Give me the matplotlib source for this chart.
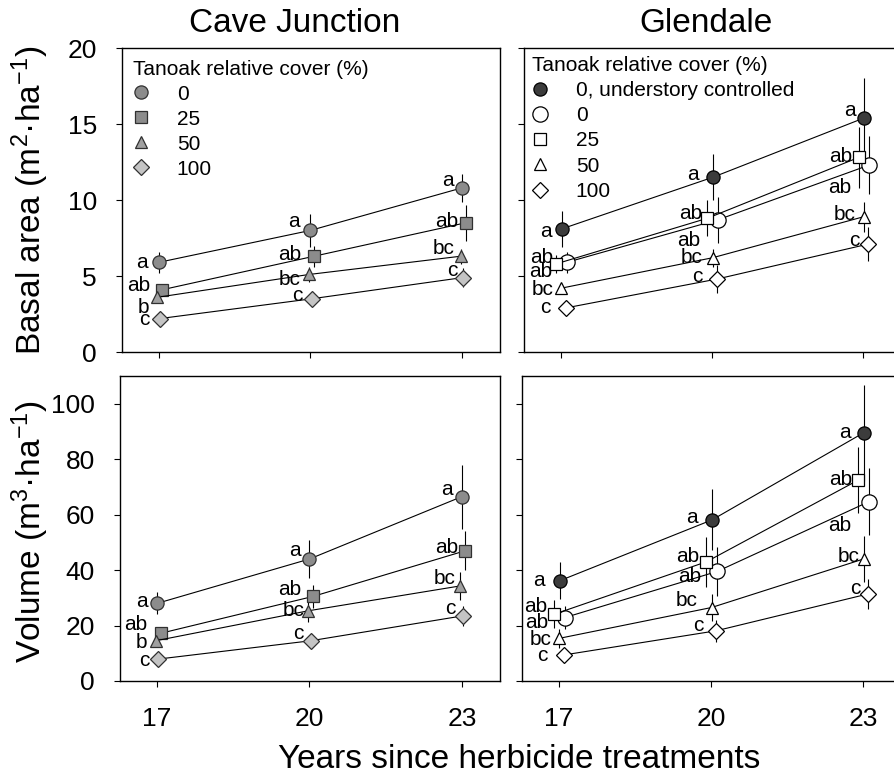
import matplotlib
matplotlib.use('Agg')
import matplotlib.pyplot as plt
from matplotlib.lines import Line2D

plt.rcParams['font.family'] = ['Liberation Sans', 'DejaVu Sans']
plt.rcParams['mathtext.fontset'] = 'custom'
plt.rcParams['mathtext.rm'] = 'Liberation Sans'

years = [17, 20, 23]

# Cave Junction
cj_names = ['0', '25', '50', '100']
cj_ba = [[5.9, 8.0, 10.8], [4.1, 6.3, 8.5], [3.6, 5.1, 6.3], [2.2, 3.5, 4.9]]
cj_ba_err = [[0.7, 1.1, 0.9], [0.4, 0.7, 1.2], [0.3, 0.5, 0.5], [0.3, 0.3, 0.6]]
cj_ba_let = [['a', 'a', 'a'], ['ab', 'ab', 'ab'], ['b', 'bc', 'bc'], ['c', 'c', 'c']]
cj_vol = [[28.0, 44.0, 66.5], [17.2, 30.5, 47.0], [14.5, 25.3, 34.3], [7.9, 14.5, 23.5]]
cj_vol_err = [[4, 7, 11.5], [2, 4, 7], [2, 4, 5], [1, 2, 3.5]]
cj_vol_let = [['a', 'a', 'a'], ['ab', 'ab', 'ab'], ['b', 'bc', 'bc'], ['c', 'c', 'c']]

# Glendale
gl_names = ['0, understory controlled', '0', '25', '50', '100']
gl_ba = [[8.1, 11.5, 15.4], [5.9, 8.7, 12.3], [5.8, 8.8, 12.8], [4.2, 6.2, 8.9], [2.9, 4.8, 7.1]]
gl_ba_err = [[1.2, 1.5, 2.6], [0.7, 1.5, 1.9], [0.6, 1.2, 2.0], [0.3, 0.6, 1.0], [0.3, 0.9, 1.1]]
gl_ba_let = [['a', 'a', 'a'], ['ab', 'ab', 'ab'], ['ab', 'ab', 'ab'], ['bc', 'bc', 'bc'], ['c', 'c', 'c']]
gl_vol = [[36.2, 58.1, 89.6], [22.9, 39.5, 64.7], [24.1, 43.0, 72.5], [15.4, 26.5, 44.0], [9.4, 18.1, 31.4]]
gl_vol_err = [[6.6, 11, 17.3], [4, 9, 12], [5, 9, 12], [3.5, 5, 8.4], [2, 4, 5.5]]
gl_vol_let = [['a', 'a', 'a'], ['ab', 'ab', 'ab'], ['ab', 'ab', 'ab'], ['bc', 'bc', 'bc'], ['c', 'c', 'c']]

# marker styles / horizontal dodge
cj_style = [dict(marker='o', mfc='#8c8c8c', ms=9.5),
            dict(marker='s', mfc='#8c8c8c', ms=8.5),
            dict(marker='^', mfc='#a0a0a0', ms=9),
            dict(marker='D', mfc='#c4c4c4', ms=8)]
cj_dodge = [0.0, 0.07, -0.03, 0.02]
gl_style = [dict(marker='o', mfc='#3c3c3c', ms=9.5),
            dict(marker='o', mfc='white', ms=11),
            dict(marker='s', mfc='white', ms=9),
            dict(marker='^', mfc='white', ms=9),
            dict(marker='D', mfc='white', ms=8.5)]
gl_dodge = [0.02, 0.12, -0.09, 0.01, 0.1]

# letter offsets in pixels (dx, dy)
cj_ba_off = [[(-11, 0), (-11, 9), (-8, 7)], [(-12, 4), (-13, 2), (-7, 1)],
             [(-8, -10), (-8, -5), (-6, 8)], [(-10, -1), (-9, 3), (-6, 7)]]
cj_vol_off = [[(-9, 2), (-9, 8), (-9, 7)], [(-13, 9), (-12, 7), (-7, 3)],
              [(-8, -2), (-3, 0), (-5, 7)], [(-9, -1), (-7, 7), (-7, 7)]]
gl_ba_off = [[(-10, -3), (-14, 3), (-8, 7)], [(-15, -9), (-18, -21), (-18, -22)],
             [(-3, 6), (-5, 5), (-6, 1)], [(-8, -1), (-10, 0), (-8, 2)],
             [(-15, 0), (-15, 3), (-9, 4)]]
gl_vol_off = [[(-15, 0), (-14, 2), (-13, 0)], [(-17, -5), (-16, -5), (-18, -24)],
              [(-7, 8), (-7, 5), (-6, 0)], [(-8, -1), (-14, 7), (-4, 3)],
              [(-17, -1), (-13, 5), (-8, 5)]]

fig = plt.figure(figsize=(8.94, 7.75), dpi=100)
W, H = 894.0, 775.0
ax_tl = fig.add_axes([122 / W, 1 - 352 / H, 378 / W, 304 / H])
ax_bl = fig.add_axes([120 / W, 1 - 681 / H, 380 / W, 305 / H])
ax_tr = fig.add_axes([524 / W, 1 - 352 / H, 377 / W, 304 / H])
ax_br = fig.add_axes([522 / W, 1 - 681 / H, 379 / W, 305 / H])


def draw(ax, means, errs, lets, offs, styles, dodge, edge):
    for m, e, l, o, st, d in zip(means, errs, lets, offs, styles, dodge):
        xs = [x + d for x in years]
        ax.errorbar(xs, m, yerr=e, color='black', lw=0.8, elinewidth=0.8,
                    capsize=0, mec=edge, mew=0.9, zorder=3, **st)
        for x, y, t, (dx, dy) in zip(xs, m, l, o):
            ax.annotate(t, (x, y), xytext=(dx, dy), textcoords='offset pixels',
                        ha='right', va='center', fontsize=15)


draw(ax_tl, cj_ba, cj_ba_err, cj_ba_let, cj_ba_off, cj_style, cj_dodge, '#303030')
draw(ax_bl, cj_vol, cj_vol_err, cj_vol_let, cj_vol_off, cj_style, cj_dodge, '#303030')
draw(ax_tr, gl_ba, gl_ba_err, gl_ba_let, gl_ba_off, gl_style, gl_dodge, 'black')
draw(ax_br, gl_vol, gl_vol_err, gl_vol_let, gl_vol_off, gl_style, gl_dodge, 'black')

for ax in [ax_tl, ax_tr]:
    ax.set_ylim(0, 20)
    ax.set_yticks([0, 5, 10, 15, 20])
for ax in [ax_bl, ax_br]:
    ax.set_ylim(0, 110)
    ax.set_yticks([0, 20, 40, 60, 80, 100])
for ax in [ax_tl, ax_tr, ax_bl, ax_br]:
    ax.set_xlim(16.27, 23.75)
    ax.set_xticks(years)
    ax.tick_params(direction='out', length=4, width=0.8, labelsize=19)
    ax.tick_params(axis='y', pad=14)
    ax.tick_params(axis='x', pad=15)
    for s in ax.spines.values():
        s.set_linewidth(1.0)
ax_tl.tick_params(labelbottom=False)
ax_tr.tick_params(labelbottom=False, labelleft=False)
ax_br.tick_params(labelleft=False)

# legends
cj_handles = [Line2D([], [], linestyle='None', mec='#303030', mew=0.9, **st) for st in cj_style]
gl_handles = [Line2D([], [], linestyle='None', mec='black', mew=0.9, **st) for st in gl_style]
ax_tl.legend(cj_handles, cj_names, title='Tanoak relative cover (%)', loc='upper left',
             bbox_to_anchor=(11 / 378, 0.962), frameon=False, fontsize=15, title_fontsize=15,
             alignment='left', borderpad=0, borderaxespad=0, labelspacing=0.29,
             handlelength=0.8, handletextpad=1.3)
ax_tr.legend(gl_handles, gl_names, title='Tanoak relative cover (%)', loc='upper left',
             bbox_to_anchor=(8 / 377, 0.975), frameon=False, fontsize=15, title_fontsize=15,
             alignment='left', borderpad=0, borderaxespad=0, labelspacing=0.3,
             handlelength=0.8, handletextpad=1.3)

fig.text(295 / W, 1 - 23 / H, 'Cave Junction', ha='center', va='center', fontsize=24)
fig.text(706 / W, 1 - 23 / H, 'Glendale', ha='center', va='center', fontsize=24)
fig.text(30 / W, 1 - 200 / H, r'Basal area (m$\mathregular{^{2}}$·ha$\mathregular{^{-1}}$)',
         rotation=90, ha='center', va='center', fontsize=24)
fig.text(30 / W, 1 - 532 / H, r'Volume (m$\mathregular{^{3}}$·ha$\mathregular{^{-1}}$)',
         rotation=90, ha='center', va='center', fontsize=24)
fig.text(519 / W, 1 - 760 / H, 'Years since herbicide treatments', ha='center', va='center',
         fontsize=24)

fig.savefig('out.png', dpi=100)
